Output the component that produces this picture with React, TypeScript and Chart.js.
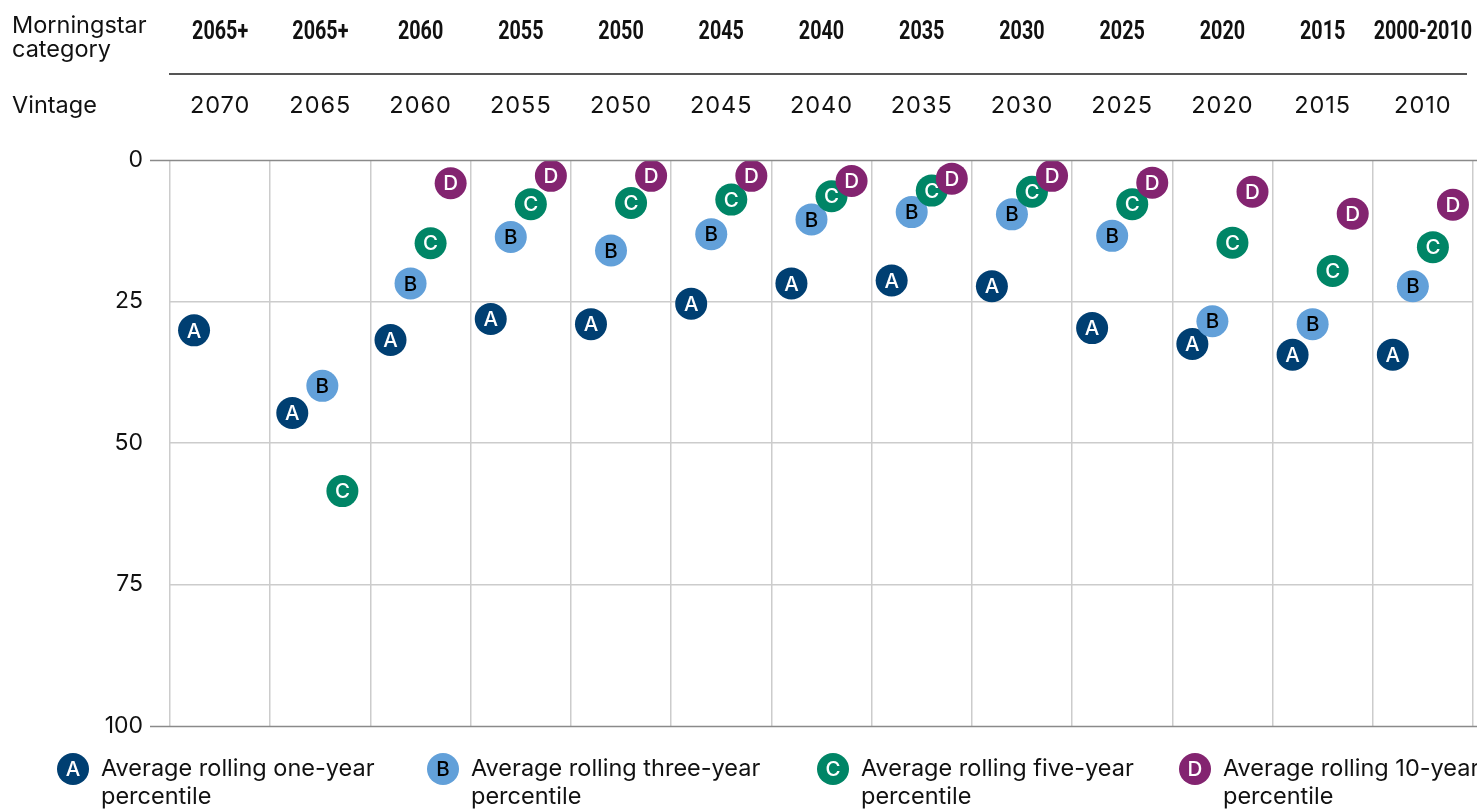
import React, { useEffect, useRef } from "react";
import { Chart, registerables } from "chart.js";

Chart.register(...registerables);

const categories = ["2065+", "2065+", "2060", "2055", "2050", "2045", "2040", "2035", "2030", "2025", "2020", "2015", "2000-2010"];
const vintages = ["2070", "2065", "2060", "2055", "2050", "2045", "2040", "2035", "2030", "2025", "2020", "2015", "2010"];
const yTicks = [0, 25, 50, 75, 100];

const seriesA = [30.1, 44.7, 31.8, 28.1, 29.0, 25.4, 21.8, 21.3, 22.3, 29.7, 32.5, 34.4, 34.4];
const seriesB = [null, 39.9, 21.8, 13.6, 16.0, 13.1, 10.5, 9.2, 9.6, 13.4, 28.5, 29.0, 22.3];
const seriesC = [null, 58.5, 14.7, 7.8, 7.6, 7.0, 6.4, 5.4, 5.6, 7.8, 14.6, 19.6, 15.4];
const seriesD = [null, null, 4.1, 2.8, 2.8, 2.8, 3.7, 3.3, 2.8, 4.0, 5.6, 9.5, 7.9];

const letters = ["A", "B", "C", "D"];
const legendLabels = [
  ["Average rolling one-year", "percentile"],
  ["Average rolling three-year", "percentile"],
  ["Average rolling five-year", "percentile"],
  ["Average rolling 10-year", "percentile"],
];
const colors = ["#003f72", "#62a0d9", "#008566", "#832470"];
const letterColors = ["#ffffff", "#000000", "#ffffff", "#ffffff"];

// slot within each category column (fraction of column width)
const slots = [0.2, 0.4, 0.6, 0.8];
function slotFor(series: number, cat: number): number {
  if (cat === 0) return 0.24;
  if (cat === 1) return [0.22, 0.52, 0.72, 0.8][series];
  return slots[series];
}

const FONT = "Inter, 'Noto Sans', sans-serif";
const BOLD = "Roboto, 'Noto Sans', sans-serif";

function toPoints(series: number, vals: (number | null)[]) {
  const pts: { x: number; y: number }[] = [];
  vals.forEach((v, i) => {
    if (v !== null) pts.push({ x: i + slotFor(series, i), y: v });
  });
  return pts;
}

const overlayPlugin = {
  id: "overlay",
  afterDatasetDraw(chart: any, args: any) {
    const ctx = chart.ctx;
    const i = args.index;
    ctx.save();
    ctx.font = `500 20.5px ${FONT}`;
    ctx.textAlign = "center";
    ctx.textBaseline = "middle";
    ctx.fillStyle = letterColors[i];
    args.meta.data.forEach((el: any) => {
      ctx.fillText(letters[i], el.x, el.y + 1);
    });
    ctx.restore();
  },
  afterDraw(chart: any) {
    const ctx = chart.ctx;
    const xs = chart.scales.x;
    const ys = chart.scales.y;
    const area = chart.chartArea;
    ctx.save();
    // baseline lines at 0 and 100
    ctx.strokeStyle = "#8a8a8a";
    ctx.lineWidth = 1.5;
    [0, 100].forEach((v) => {
      const y = Math.round(ys.getPixelForValue(v)) + 0.5;
      ctx.beginPath();
      ctx.moveTo(150, y);
      ctx.lineTo(1477, y);
      ctx.stroke();
    });
    // header
    ctx.fillStyle = "#111";
    ctx.textBaseline = "middle";
    ctx.textAlign = "left";
    ctx.font = `23.5px ${FONT}`;
    ctx.fillText("Morningstar", 12, 26);
    ctx.fillText("category", 12, 50);
    ctx.fillText("Vintage", 12, 106);
    ctx.textAlign = "center";
    categories.forEach((c, i) => {
      const x = xs.getPixelForValue(i + 0.5);
      ctx.save();
      ctx.font = `bold 26px ${BOLD}`;
      ctx.translate(x, 32);
      ctx.scale(0.76, 1);
      ctx.fillText(c, 0, 0);
      ctx.restore();
      ctx.font = `23.5px ${FONT}`;
      (ctx as any).letterSpacing = "1px";
      ctx.fillText(vintages[i], x, 106);
      (ctx as any).letterSpacing = "0px";
    });
    ctx.strokeStyle = "#555";
    ctx.lineWidth = 2;
    ctx.beginPath();
    ctx.moveTo(area.left - 1, 74);
    ctx.lineTo(1467, 74);
    ctx.stroke();
    // legend
    const lx = [73, 443, 833, 1195];
    lx.forEach((x, i) => {
      ctx.fillStyle = colors[i];
      ctx.beginPath();
      ctx.arc(x, 769, 16, 0, Math.PI * 2);
      ctx.fill();
      ctx.fillStyle = letterColors[i];
      ctx.font = `500 20.5px ${FONT}`;
      ctx.textAlign = "center";
      ctx.fillText(letters[i], x, 770);
      ctx.fillStyle = "#111";
      ctx.font = `23.5px ${FONT}`;
      ctx.textAlign = "left";
      ctx.fillText(legendLabels[i][0], x + 28, 769);
      ctx.fillText(legendLabels[i][1], x + 28, 797);
    });
    ctx.restore();
  },
};

export default function App() {
  const ref = useRef<HTMLCanvasElement | null>(null);
  useEffect(() => {
    if (!ref.current) return;
    const all = [seriesA, seriesB, seriesC, seriesD];
    const chart = new Chart(ref.current, {
      type: "scatter",
      data: {
        datasets: all.map((vals, i) => ({
          label: letters[i],
          data: toPoints(i, vals),
          backgroundColor: colors[i],
          borderWidth: 0,
          pointRadius: 16,
          pointHoverRadius: 16,
          order: 4 - i,
        })),
      },
      options: {
        responsive: false,
        animation: false,
        events: [],
        layout: { autoPadding: false, padding: { top: 160, bottom: 83, right: 4, left: 0 } },
        plugins: { legend: { display: false }, tooltip: { enabled: false } },
        scales: {
          x: {
            type: "linear",
            min: 0,
            max: categories.length,
            afterFit: (s: any) => {
              s.height = 0;
            },
            ticks: { display: false, stepSize: 1 },
            grid: { color: "#cccccc", lineWidth: 1.5, drawTicks: false },
            border: { display: false },
          },
          y: {
            type: "linear",
            reverse: true,
            min: 0,
            max: 100,
            afterBuildTicks: (s: any) => {
              s.ticks = yTicks.map((v) => ({ value: v }));
            },
            afterFit: (s: any) => {
              s.width = 170;
            },
            ticks: {
              padding: 27,
              color: "#111",
              font: { family: FONT, size: 23 },
            },
            grid: {
              drawTicks: false,
              lineWidth: 1.5,
              color: (c: any) => (c.tick && (c.tick.value === 0 || c.tick.value === 100) ? "rgba(0,0,0,0)" : "#cccccc"),
            },
            border: { display: false },
          },
        },
      },
      plugins: [overlayPlugin],
    });
    return () => chart.destroy();
  }, []);
  return (
    <div style={{ position: "fixed", left: 0, top: 0, width: 1477, height: 809, background: "#fff" }}>
      <canvas ref={ref} width={1477} height={809} style={{ width: 1477, height: 809 }} />
    </div>
  );
}
